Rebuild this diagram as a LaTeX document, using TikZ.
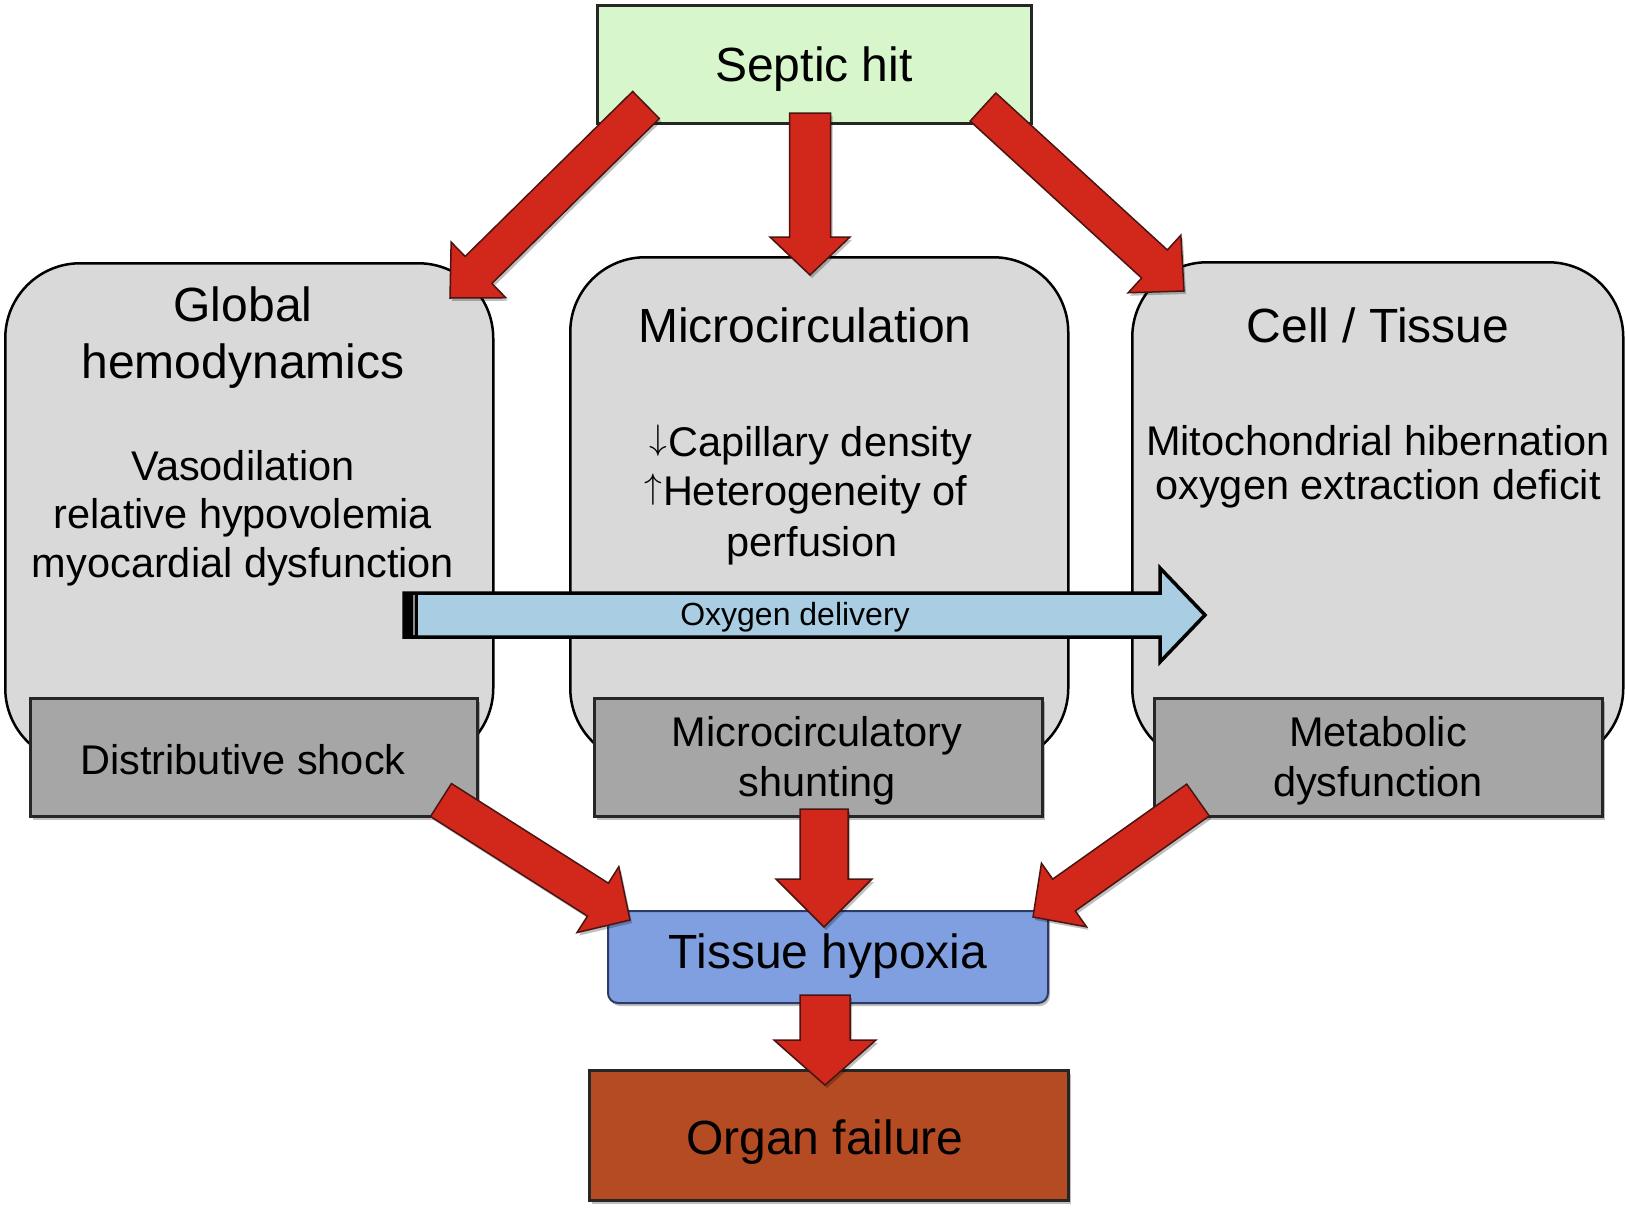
\documentclass[tikz,border=0pt]{standalone}
\usepackage{fontspec}
\usepackage{graphicx}
\setmainfont{Liberation Sans}
\usetikzlibrary{calc,shadows}
\definecolor{sgreen}{HTML}{D7F6CB}
\definecolor{lgray}{HTML}{D9D9D9}
\definecolor{dgray}{HTML}{A6A6A6}
\definecolor{arred}{HTML}{D2281C}
\definecolor{hblue}{HTML}{7F9FE1}
\definecolor{hline}{HTML}{2B3A66}
\definecolor{ofail}{HTML}{B54B22}
\definecolor{oxblue}{HTML}{A9CDE2}
\definecolor{redline}{HTML}{4A1410}
\tikzset{
  softshadow/.style={drop shadow={shadow xshift=2pt, shadow yshift=-3pt, opacity=0.25, fill=black}},
  panel/.style={draw=black, line width=2.5pt, fill=lgray, rounded corners=75pt, inner sep=0pt, anchor=north west},
  subbox/.style={draw=black!85, line width=3pt, fill=dgray, inner sep=0pt, anchor=north west, softshadow},
  redarrow/.style={fill=arred, draw=redline, line width=1.5pt, line join=miter, softshadow},
  oxyarrow/.style={fill=oxblue, draw=black, line width=3.5pt, line join=miter},
  title/.style={font=\fontsize{48}{55}\selectfont, inner sep=0pt, anchor=base},
  body/.style={font=\fontsize{41.5}{49}\selectfont, inner sep=0pt, anchor=base},
  small/.style={font=\fontsize{32}{38}\selectfont, inner sep=0pt, anchor=base},
}
\newcommand\dnarr{\raisebox{0.15em}{\resizebox*{!}{0.76em}{$\downarrow$}}\kern0.02em}
\newcommand\uparr{\raisebox{0.15em}{\resizebox*{!}{0.76em}{$\uparrow$}}\kern0.02em}
\newcommand\redarr[5]{%
  \coordinate (#2base) at ($(#2)!#5!(#1)$);
  \path[redarrow] ($(#1)!#3!90:(#2)$) -- ($(#2base)!#3!90:(#2)$) -- ($(#2base)!#4!90:(#2)$) -- (#2)
    -- ($(#2base)!#4!-90:(#2)$) -- ($(#2base)!#3!-90:(#2)$) -- ($(#1)!#3!-90:(#2)$) -- cycle;}
\begin{document}
\begin{tikzpicture}[x=1pt,y=-1pt]
\useasboundingbox[fill=white] (0,0) rectangle (1625,1208);

% panels
\node[panel, minimum width=488pt, minimum height=500pt] (glob) at (4,262) {};
\node[panel, minimum width=498pt, minimum height=506pt] (micro) at (569,256) {};
\node[panel, minimum width=491pt, minimum height=501pt] (cell) at (1131,261) {};

% sub boxes
\node[subbox, minimum width=447pt, minimum height=118pt] (dist) at (29,697) {};
\node[subbox, minimum width=448pt, minimum height=118pt] (shunt) at (593,697) {};
\node[subbox, minimum width=448pt, minimum height=118pt] (metab) at (1153,697) {};

% top and bottom boxes
\node[draw=black!85, line width=2.5pt, fill=sgreen, inner sep=0pt, anchor=north west,
      minimum width=434pt, minimum height=118pt] (septic) at (596,4) {};
\node[draw=hline, line width=2pt, fill=hblue, rounded corners=10pt, inner sep=0pt, anchor=north west,
      minimum width=440pt, minimum height=92pt, softshadow] (hypox) at (607,910) {};
\node[draw=black!85, line width=3pt, fill=ofail, inner sep=0pt, anchor=north west,
      minimum width=479pt, minimum height=130pt, softshadow] (organ) at (588,1069) {};

% oxygen delivery arrow
\coordinate (oxs) at (404,615);
\coordinate (oxe) at (1205,615);
\path[oxyarrow] ($(oxs)+(0,-22)$) -- ($(oxe)+(-45,-22)$) -- ($(oxe)+(-45,-47)$) -- (oxe)
   -- ($(oxe)+(-45,47)$) -- ($(oxe)+(-45,22)$) -- ($(oxs)+(0,22)$) -- cycle;
\fill[black] ($(oxs)+(-1,-23)$) rectangle ($(oxs)+(14,23)$);
\draw[black!45, line width=1.5pt] ($(oxs)+(10,-20)$) -- ($(oxs)+(10,20)$);
\node[small] (oxtext) at (795,625) {Oxygen delivery};

% texts
\node[title] (t-septic) at (814,81) {Septic hit};
\node[title] (t-glob1) at (243,321) {Global};
\node[title] (t-glob2) at (243,378) {hemodynamics};
\node[body] (b-glob1) at (243,480) {Vasodilation};
\node[body] (b-glob2) at (243,528) {relative hypovolemia};
\node[body] (b-glob3) at (243,577) {myocardial dysfunction};
\node[title] (t-micro) at (805,342) {Microcirculation};
\node[body] (b-micro1) at (811,456) {\dnarr Capillary density};
\node[body] (b-micro2) at (806,505) {\uparr Heterogeneity of};
\node[body] (b-micro3) at (812,556) {perfusion};
\node[title] (t-cell) at (1378,342) {Cell / Tissue};
\node[body] (b-cell1) at (1378,455) {Mitochondrial hibernation};
\node[body] (b-cell2) at (1378,499) {oxygen extraction deficit};
\node[body] (t-dist) at (243,774) {Distributive shock};
\node[body] (t-shunt1) at (817,746) {Microcirculatory};
\node[body] (t-shunt2) at (817,796) {shunting};
\node[body] (t-metab1) at (1378,746) {Metabolic};
\node[body] (t-metab2) at (1378,796) {dysfunction};
\node[title] (t-hypox) at (828,968) {Tissue hypoxia};
\node[title] (t-organ) at (825,1154) {Organ failure};

% red arrows
\coordinate (r1a) at (646,105);  \coordinate (r1b) at (450,298);
\coordinate (r2a) at (810,113);  \coordinate (r2b) at (810,275);
\coordinate (r3a) at (983,107);  \coordinate (r3b) at (1184,291);
\coordinate (r4a) at (441,800);  \coordinate (r4b) at (630,920);
\coordinate (r5a) at (824,809);  \coordinate (r5b) at (824,927);
\coordinate (r6a) at (1198,800); \coordinate (r6b) at (1033,917);
\coordinate (r7a) at (825,995);  \coordinate (r7b) at (825,1085);
\redarr{r1a}{r1b}{19pt}{39pt}{40pt}
\redarr{r2a}{r2b}{20.5pt}{40pt}{38pt}
\redarr{r3a}{r3b}{19pt}{39pt}{40pt}
\redarr{r4a}{r4b}{19.5pt}{39pt}{38pt}
\redarr{r5a}{r5b}{24pt}{48pt}{48pt}
\redarr{r6a}{r6b}{19.5pt}{39pt}{38pt}
\redarr{r7a}{r7b}{25pt}{51pt}{45pt}
\end{tikzpicture}
\end{document}
